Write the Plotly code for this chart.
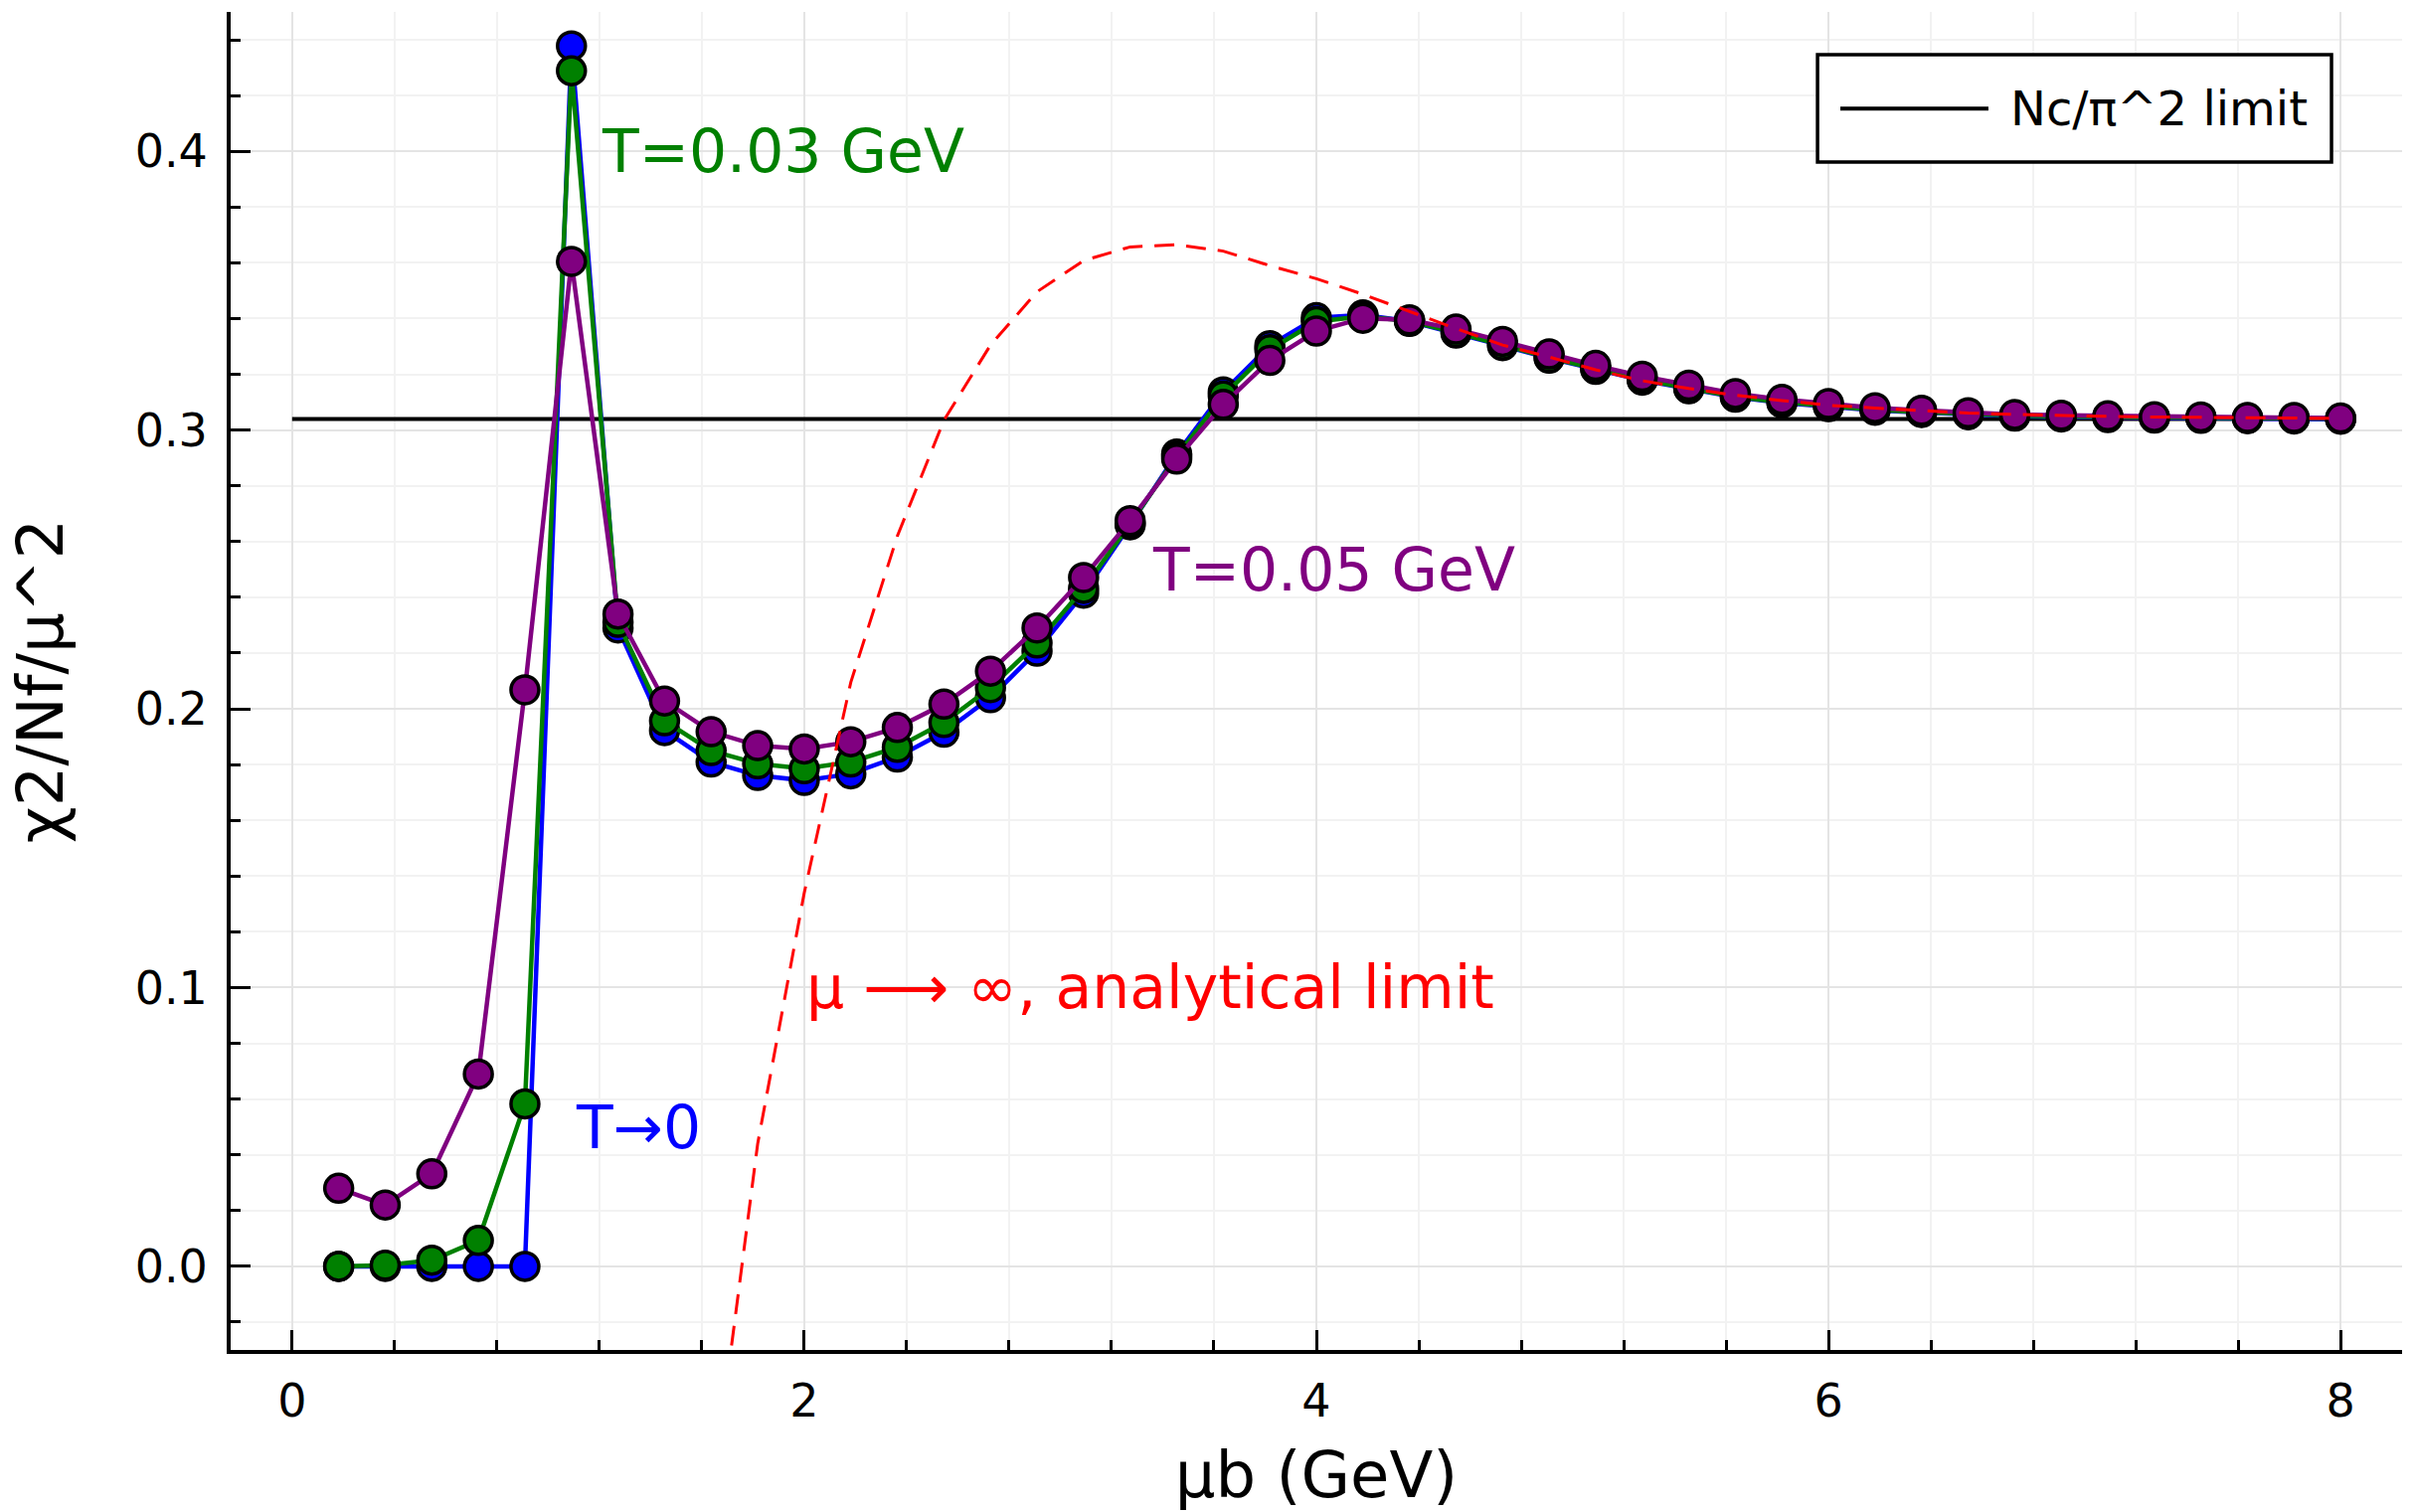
import plotly.graph_objects as go

# ---------------- data ----------------
mu_b = [0.1818, 0.3636, 0.5455, 0.7273, 0.9091, 1.0909, 1.2727, 1.4545, 1.6364, 1.8182,
        2.0, 2.1818, 2.3636, 2.5455, 2.7273, 2.9091, 3.0909, 3.2727, 3.4545, 3.6364,
        3.8182, 4.0, 4.1818, 4.3636, 4.5455, 4.7273, 4.9091, 5.0909, 5.2727, 5.4545,
        5.6364, 5.8182, 6.0, 6.1818, 6.3636, 6.5455, 6.7273, 6.9091, 7.0909, 7.2727,
        7.4545, 7.6364, 7.8182, 8.0]

chi_T0 = [0.0, 0.0, 0.0, 0.0, 0.0, 0.4378, 0.2290, 0.1922, 0.1809, 0.1761,
          0.1743, 0.1767, 0.1827, 0.1916, 0.2040, 0.2207, 0.2415, 0.2660, 0.2914, 0.3137,
          0.3303, 0.3403, 0.3413, 0.3390, 0.3348, 0.3303, 0.3258, 0.3218, 0.3179, 0.3148,
          0.3118, 0.3098, 0.3084, 0.3071, 0.3063, 0.3055, 0.3050, 0.3047, 0.3045, 0.3043,
          0.3042, 0.3041, 0.3040, 0.3039]

chi_T003 = [0.0, 0.0004, 0.0022, 0.0093, 0.0583, 0.4289, 0.2310, 0.1957, 0.1850, 0.1803,
            0.1785, 0.1809, 0.1862, 0.1951, 0.2076, 0.2236, 0.2432, 0.2664, 0.2906, 0.3123,
            0.3288, 0.3389, 0.3408, 0.3391, 0.3350, 0.3305, 0.3260, 0.3220, 0.3181, 0.3150,
            0.3120, 0.3100, 0.3086, 0.3073, 0.3065, 0.3057, 0.3052, 0.3049, 0.3047, 0.3045,
            0.3044, 0.3043, 0.3042, 0.3041]

chi_T005 = [0.0280, 0.0220, 0.0332, 0.0690, 0.2068, 0.3605, 0.2340, 0.2028, 0.1918, 0.1868,
            0.1856, 0.1882, 0.1933, 0.2017, 0.2135, 0.2290, 0.2471, 0.2675, 0.2896, 0.3092,
            0.3250, 0.3355, 0.3401, 0.3395, 0.3362, 0.3318, 0.3273, 0.3232, 0.3193, 0.3161,
            0.3131, 0.3110, 0.3095, 0.3080, 0.3071, 0.3062, 0.3056, 0.3053, 0.3051, 0.3048,
            0.3047, 0.3045, 0.3045, 0.3043]

mu_analytic = [1.6364, 1.8182, 2.0, 2.1818, 2.3636, 2.5455, 2.7273, 2.9091, 3.0909, 3.2727,
               3.4545, 3.6364, 3.8182, 4.0, 4.1818, 4.3636, 4.5455, 4.7273, 4.9091, 5.0909,
               5.2727, 5.4545, 5.6364, 5.8182, 6.0, 6.1818, 6.3636, 6.5455, 6.7273, 6.9091,
               7.0909, 7.2727, 7.4545, 7.6364, 7.8182, 8.0]
chi_analytic = [-0.085, 0.044, 0.134, 0.2095, 0.262, 0.3035, 0.3305, 0.3496, 0.3608, 0.3657,
                0.3665, 0.3642, 0.3590, 0.3543, 0.3487, 0.3425, 0.3364, 0.3305, 0.3262, 0.3216,
                0.3177, 0.3149, 0.3125, 0.3106, 0.3089, 0.3079, 0.3069, 0.3061, 0.3056, 0.3052,
                0.3049, 0.3047, 0.3045, 0.3044, 0.3043, 0.3042]

limit_x = [0.0, 8.0]
limit_value = 0.3040
legend_label = "Nc/π^2 limit"

x_ticks = [0, 2, 4, 6, 8]
y_ticks = [0.0, 0.1, 0.2, 0.3, 0.4]

# ---------------- figure ----------------
FONT = "DejaVu Sans"
fig = go.Figure()

fig.add_trace(go.Scatter(
    x=limit_x, y=[limit_value] * len(limit_x), mode="lines",
    line=dict(color="black", width=4), name=legend_label, showlegend=False))

series = [(chi_T0, "blue", "T→0"), (chi_T003, "green", "T=0.03 GeV"), (chi_T005, "purple", "T=0.05 GeV")]
for ys, col, nm in series:
    fig.add_trace(go.Scatter(
        x=mu_b, y=ys, mode="lines+markers", name=nm, showlegend=False,
        line=dict(color=col, width=4.5),
        marker=dict(color=col, size=28, line=dict(color="black", width=3.5))))

fig.add_trace(go.Scatter(
    x=mu_analytic, y=chi_analytic, mode="lines", name="analytical", showlegend=False,
    line=dict(color="red", width=3, dash="20px,12px")))

ann_font = 60
annotations = [
    dict(x=1.2, y=0.4, text="T=0.03 GeV", color="green"),
    dict(x=3.35, y=0.25, text="T=0.05 GeV", color="purple"),
    dict(x=1.1, y=0.05, text="T→0", color="blue"),
    dict(x=2.0, y=0.1, text="μ ⟶ ∞, analytical limit", color="red"),
]
for a in annotations:
    fig.add_annotation(x=a["x"], y=a["y"], xref="x", yref="y", text=a["text"],
                       showarrow=False, xanchor="left", yanchor="middle",
                       font=dict(family=FONT, size=ann_font, color=a["color"]))

# legend (drawn as a framed box in the upper-right corner)
fig.add_shape(type="rect", xref="paper", yref="paper",
              x0=0.7308, x1=0.9675, y0=0.8878, y1=0.9681,
              line=dict(color="black", width=3.5), fillcolor="white", layer="above")
fig.add_shape(type="line", xref="paper", yref="paper",
              x0=0.7413, x1=0.8095, y0=0.9277, y1=0.9277,
              line=dict(color="black", width=4), layer="above")
fig.add_annotation(x=0.8187, y=0.9277, xref="paper", yref="paper", text=legend_label,
                   showarrow=False, xanchor="left", yanchor="middle",
                   font=dict(family=FONT, size=48, color="black"))

axis_common = dict(
    showline=True, linecolor="black", linewidth=4, mirror=False,
    ticks="inside", ticklen=20, tickwidth=3, tickcolor="black",
    showgrid=True, gridcolor="#e4e4e4", gridwidth=2,
    zeroline=False, automargin=False,
    tickfont=dict(family=FONT, size=46, color="black"),
)

fig.update_xaxes(
    range=[-0.24, 8.24], tickvals=x_ticks, ticktext=[str(v) for v in x_ticks],
    title=dict(text="μb (GeV)", font=dict(family=FONT, size=64, color="black"), standoff=45),
    minor=dict(dtick=0.4, tick0=0, ticks="inside", ticklen=10, tickwidth=3, tickcolor="black",
               showgrid=True, gridcolor="#f2f2f2", gridwidth=1.5),
    ticklabelstandoff=8,
    **axis_common)

fig.update_yaxes(
    range=[-0.03, 0.45], tickvals=y_ticks, ticktext=[f"{v:.1f}" for v in y_ticks],
    title=dict(text="χ2/Nf/μ^2", font=dict(family=FONT, size=64, color="black"), standoff=52),
    minor=dict(dtick=0.02, tick0=0, ticks="inside", ticklen=10, tickwidth=3, tickcolor="black",
               showgrid=True, gridcolor="#f2f2f2", gridwidth=1.5),
    ticklabelstandoff=10,
    **axis_common)

fig.update_layout(
    width=2430, height=1521,
    margin=dict(l=232, r=14, t=12, b=163),
    paper_bgcolor="white", plot_bgcolor="white",
    font=dict(family=FONT, color="black"),
    showlegend=False,
)

fig.write_html("out.html")
